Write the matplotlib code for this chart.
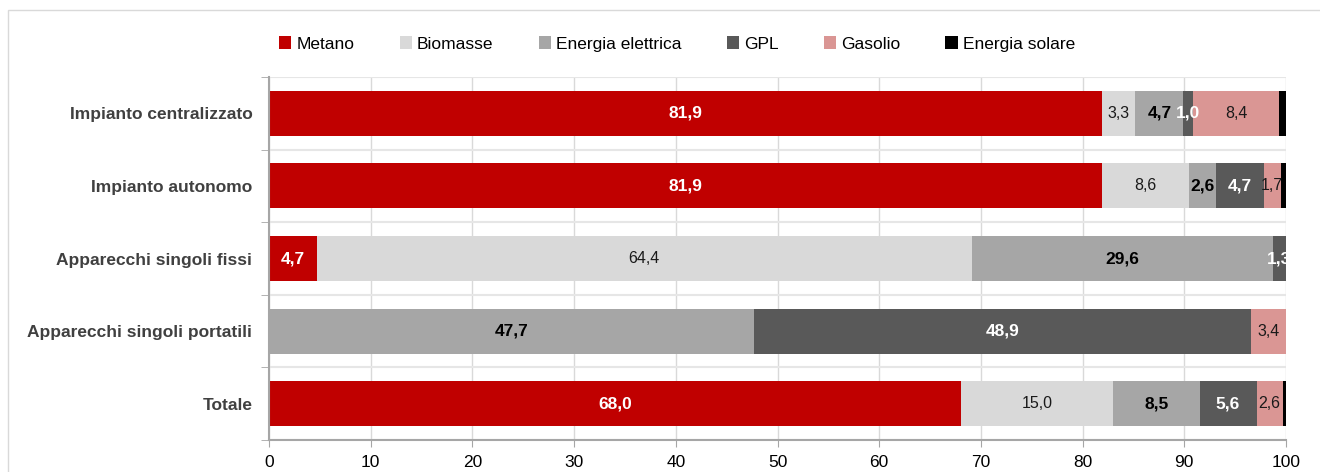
import matplotlib.pyplot as plt
from matplotlib.patches import Rectangle
import numpy as np

plt.rcParams['font.family'] = ['Liberation Sans Narrow', 'Liberation Sans', 'DejaVu Sans']

categorie = ["Impianto centralizzato", "Impianto autonomo", "Apparecchi singoli fissi",
             "Apparecchi singoli portatili", "Totale"]
metano = [81.9, 81.9, 4.7, 0.0, 68.0]
biomasse = [3.3, 8.6, 64.4, 0.0, 15.0]
elettrica = [4.7, 2.6, 29.6, 47.7, 8.5]
gpl = [1.0, 4.7, 1.3, 48.9, 5.6]
gasolio = [8.4, 1.7, 0.0, 3.4, 2.6]
solare = [0.7, 0.5, 0.0, 0.0, 0.3]

serie = [
    ("Metano", metano, "#C00000", "white", "bold"),
    ("Biomasse", biomasse, "#D9D9D9", "#1a1a1a", "normal"),
    ("Energia elettrica", elettrica, "#A6A6A6", "black", "bold"),
    ("GPL", gpl, "#595959", "white", "bold"),
    ("Gasolio", gasolio, "#DA9694", "#1a1a1a", "normal"),
    ("Energia solare", solare, "#000000", None, None),
]

fig = plt.figure(figsize=(13.2, 4.72), dpi=100)
fig.patches.append(Rectangle((8 / 1320, -0.1), 1.2, (472 - 10) / 472 + 0.1,
                             transform=fig.transFigure, fill=False,
                             edgecolor="#d9d9d9", linewidth=1))
ax = fig.add_axes([269 / 1320, 1 - 440 / 472, 1017 / 1320, 363 / 472])

y = np.arange(len(categorie))
left = np.zeros(len(categorie))
for nome, vals, col, tcol, tw in serie:
    vals = np.array(vals)
    ax.barh(y, vals, left=left, height=0.62, color=col, label=nome, zorder=2)
    if tcol is not None:
        for i, v in enumerate(vals):
            if v > 0:
                ax.text(left[i] + v / 2, y[i], f"{v:.1f}".replace(".", ","),
                        ha="center", va="center", color=tcol, fontweight=tw,
                        fontsize=12.5 if tw == "bold" else 11.5, zorder=3)
    left += vals

ax.set_xlim(0, 100)
ax.set_ylim(len(categorie) - 0.5, -0.5)
ax.set_xticks(np.arange(0, 101, 10))
ax.tick_params(axis="x", labelsize=12.5, length=5, color="#a6a6a6", pad=6)
ax.set_yticks(y)
ax.set_yticklabels(categorie, fontsize=12.5, fontweight="bold", color="#404040")
ax.tick_params(axis="y", length=0, pad=12)
ax.set_yticks(np.arange(-0.5, len(categorie), 1), minor=True)
ax.tick_params(axis="y", which="minor", length=6, color="#a6a6a6")
ax.grid(axis="x", color="#d9d9d9", linewidth=1, zorder=0)
ax.grid(axis="y", which="minor", color="#e6e6e6", linewidth=1.5, zorder=0)
ax.set_axisbelow(True)
for s in ["top", "right"]:
    ax.spines[s].set_visible(False)
for s in ["left", "bottom"]:
    ax.spines[s].set_color("#a6a6a6")
    ax.spines[s].set_linewidth(1.5)

ax.legend(loc="center", bbox_to_anchor=((677 - 269) / 1017, 1 + 33 / 363), ncol=6,
          frameon=False, fontsize=12.5, handlelength=0.7, handleheight=0.7,
          handletextpad=0.3, columnspacing=2.6)

fig.savefig("out.png", dpi=100)
